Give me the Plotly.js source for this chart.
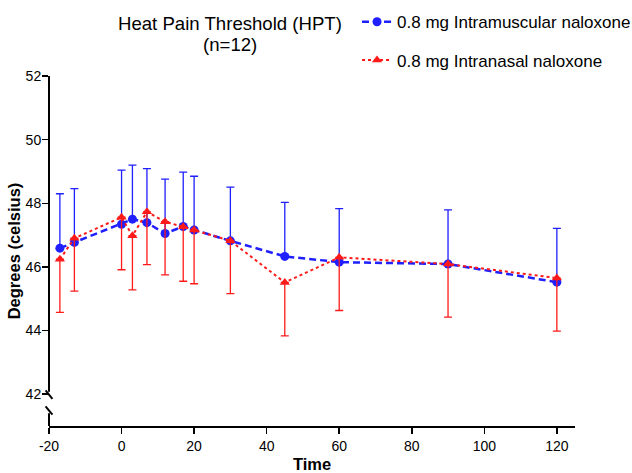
<!DOCTYPE html>
<html>
<head>
<meta charset="utf-8">
<script src="https://cdn.plot.ly/plotly-3.0.1.min.js"></script>
<style>html,body{margin:0;padding:0;background:#fff;}#chart{width:632px;height:473px;}</style>
</head>
<body>
<div id="chart"></div>
<script>
// Time points (minutes)
const timeIM = [-17, -13, 0, 3, 7, 12, 17, 20, 30, 45, 60, 90, 120];
const timeIN = [-17, -13, 0, 3, 7, 12, 17, 20, 30, 45, 60, 90, 120];
// 0.8 mg Intramuscular naloxone: mean and SD (upper bars)
const imMean = [46.59, 46.77, 47.34, 47.50, 47.39, 47.05, 47.27, 47.16, 46.82, 46.33, 46.15, 46.09, 45.52];
const imSD   = [1.71, 1.69, 1.70, 1.70, 1.70, 1.71, 1.71, 1.69, 1.69, 1.70, 1.68, 1.70, 1.69];
// 0.8 mg Intranasal naloxone: mean and SD (lower bars)
const inMean = [46.24, 46.90, 47.56, 46.98, 47.73, 47.42, 47.26, 47.16, 46.82, 45.51, 46.30, 46.09, 45.65];
const inSD   = [1.67, 1.66, 1.65, 1.70, 1.66, 1.67, 1.71, 1.69, 1.66, 1.68, 1.67, 1.67, 1.67];
const zerosIM = imSD.map(() => 0);
const zerosIN = inSD.map(() => 0);
const yTicks = [42, 44, 46, 48, 50, 52];
const xTicks = [-20, 0, 20, 40, 60, 80, 100, 120];
const titleLine1 = 'Heat Pain Threshold (HPT)';
const titleLine2 = '(n=12)';

const FONT = 'Liberation Sans, Arial, sans-serif';
const BLUE = '#1f1fff';
const RED = '#ff1a1a';

const traces = [
  {
    x: timeIM, y: imMean, type: 'scatter', mode: 'lines+markers',
    name: '0.8 mg Intramuscular naloxone', legendgroup: 'a',
    line: {color: BLUE, width: 2.5, dash: '7px,4px'},
    marker: {color: BLUE, symbol: 'circle', size: 9},
    error_y: {type: 'data', symmetric: false, array: imSD, arrayminus: zerosIM, color: BLUE, thickness: 1.3, width: 4}
  },
  {
    x: timeIN, y: inMean, type: 'scatter', mode: 'lines+markers',
    name: '0.8 mg Intranasal naloxone', legendgroup: 'b',
    line: {color: RED, width: 2, dash: 'dot'},
    marker: {color: RED, symbol: 'triangle-up', size: 9},
    error_y: {type: 'data', symmetric: false, array: zerosIN, arrayminus: inSD, color: RED, thickness: 1.3, width: 4}
  }
];

const layout = {
  width: 632, height: 473,
  margin: {l: 49, r: 57, t: 76, b: 47, autoexpand: false},
  paper_bgcolor: '#fff', plot_bgcolor: '#fff',
  font: {family: FONT, color: '#000', size: 14},
  showlegend: true,
  legend: {
    x: 0.5856, xanchor: 'left', y: 1.205, yanchor: 'top',
    font: {family: FONT, size: 17, color: '#000'},
    tracegroupgap: 13, traceorder: 'grouped', itemwidth: 30,
    bgcolor: 'rgba(0,0,0,0)'
  },
  annotations: [
    {text: titleLine1, xref: 'paper', yref: 'paper', x: 0.344, y: 1.151, xanchor: 'center', yanchor: 'middle',
     showarrow: false, font: {family: FONT, size: 18.6, color: '#000'}},
    {text: titleLine2, xref: 'paper', yref: 'paper', x: 0.344, y: 1.089, xanchor: 'center', yanchor: 'middle',
     showarrow: false, font: {family: FONT, size: 18.6, color: '#000'}}
  ],
  xaxis: {
    range: [-20, 125], tickvals: xTicks, ticktext: xTicks.map(String),
    showline: true, linecolor: '#000', linewidth: 2,
    ticks: 'outside', ticklen: 6, tickwidth: 1.5, tickcolor: '#000',
    showgrid: false, zeroline: false,
    tickfont: {family: FONT, size: 14, color: '#000'},
    title: {text: '<b>Time</b>', font: {family: FONT, size: 16.5, color: '#000'}, standoff: 8}
  },
  yaxis: {
    range: [41, 52], tickvals: yTicks, ticktext: yTicks.map(String),
    showline: false,
    ticks: 'outside', ticklen: 6, tickwidth: 1.5, tickcolor: '#000',
    ticklabelstandoff: -2,
    showgrid: false, zeroline: false,
    tickfont: {family: FONT, size: 14, color: '#000'},
    title: {text: '<b>Degrees (celsius)</b>', font: {family: FONT, size: 16.5, color: '#000'}, standoff: 0}
  },
  shapes: [
    {type: 'line', xref: 'paper', yref: 'y', x0: 0, x1: 0, y0: 52, y1: 42.08, line: {color: '#000', width: 2}},
    {type: 'line', xref: 'paper', yref: 'y', x0: 0, x1: 0, y0: 41.4, y1: 41, line: {color: '#000', width: 2}},
    {type: 'line', xref: 'paper', yref: 'y', x0: -0.0065, x1: 0.0065, y0: 42.12, y1: 41.85, line: {color: '#000', width: 2}},
    {type: 'line', xref: 'paper', yref: 'y', x0: -0.0065, x1: 0.0065, y0: 41.62, y1: 41.36, line: {color: '#000', width: 2}}
  ]
};

Plotly.newPlot('chart', traces, layout, {displayModeBar: false, staticPlot: true});
</script>
</body>
</html>
